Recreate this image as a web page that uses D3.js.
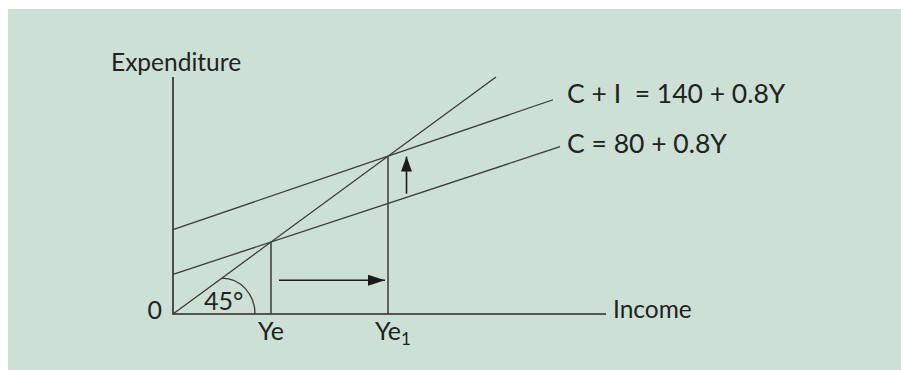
<!DOCTYPE html>
<html>
<head>
<meta charset="utf-8">
<script src="https://cdn.jsdelivr.net/npm/d3@7"></script>
<style>
  body { margin: 0; background: #fff; }
  text { font-family: Lato, "Noto Sans", sans-serif; fill: #222; white-space: pre; }
</style>
</head>
<body>
<div class="chart"></div>
<script>
// schematic units: 45 degree line is y = x
const line45 = [{x: 0, y: 0}, {x: 323, y: 323}];
const lineC = [{x: 0, y: 54}, {x: 387, y: 228}];
const lineCI = [{x: 0, y: 115}, {x: 380, y: 292}];
const equilibria = [{label: "Ye", sub: "", x: 98, y: 98}, {label: "Ye", sub: "1", x: 215, y: 215}];
const lineLabels = ["C + I  = 140 + 0.8Y", "C = 80 + 0.8Y"];
const shiftRight = [{x: 106, y: 46}, {x: 212, y: 46}];
const shiftUp = [{x: 233.5, y: 164}, {x: 233.5, y: 214.5}];
const angleArc = {cx: 49, rx: 33, ry: 49};
const xMax = 433, yMax = 323;

const width = 901, height = 370;

const svg = d3.select(".chart")
  .append("svg")
    .attr("width", width)
    .attr("height", height);

svg.append("rect")
  .attr("x", 8).attr("y", 9)
  .attr("width", width - 8).attr("height", height - 9)
  .attr("fill", "#cde0d5");

const x = d3.scaleLinear().domain([0, xMax]).range([173, 606]);
const y = d3.scaleLinear().domain([0, yMax]).range([314, 77]);

const line = d3.line().x(d => x(d.x)).y(d => y(d.y));

const defs = svg.append("defs");
defs.append("marker")
    .attr("id", "headH")
    .attr("markerUnits", "userSpaceOnUse")
    .attr("viewBox", "0 0 17 11")
    .attr("refX", 17).attr("refY", 5.5)
    .attr("markerWidth", 17).attr("markerHeight", 11)
    .attr("orient", "auto")
  .append("path")
    .attr("d", "M0,0L17,5.5L0,11Z")
    .attr("fill", "#1a1a1a");
defs.append("marker")
    .attr("id", "headV")
    .attr("markerUnits", "userSpaceOnUse")
    .attr("viewBox", "0 0 15 11")
    .attr("refX", 15).attr("refY", 5.5)
    .attr("markerWidth", 15).attr("markerHeight", 11)
    .attr("orient", "auto")
  .append("path")
    .attr("d", "M0,0L15,5.5L0,11Z")
    .attr("fill", "#1a1a1a");

// axes
svg.append("path")
  .attr("d", `M${x(0)},${y(yMax)}V${y(0)}H${x(xMax)}`)
  .attr("fill", "none")
  .attr("stroke", "#2a2a2a")
  .attr("stroke-width", 1.6);

// functions
svg.append("g")
  .selectAll("path")
  .data([line45, lineC, lineCI])
  .join("path")
    .attr("d", line)
    .attr("fill", "none")
    .attr("stroke", "#3a3a3a")
    .attr("stroke-width", 1.3);

// equilibrium drop lines
svg.append("g")
  .selectAll("line")
  .data(equilibria)
  .join("line")
    .attr("x1", d => x(d.x)).attr("x2", d => x(d.x))
    .attr("y1", y(0)).attr("y2", d => y(d.y))
    .attr("stroke", "#444")
    .attr("stroke-width", 1.6);

// 45 degree arc
svg.append("path")
  .attr("d", `M${x(angleArc.cx)},${y(angleArc.ry)}A${x(angleArc.rx) - x(0)},${y(0) - y(angleArc.ry)} 0 0 1 ${x(angleArc.cx + angleArc.rx)},${y(0)}`)
  .attr("fill", "none")
  .attr("stroke", "#3a3a3a")
  .attr("stroke-width", 1.3);

// arrows
svg.append("path")
  .attr("d", line(shiftRight))
  .attr("stroke", "#1a1a1a")
  .attr("stroke-width", 1.6)
  .attr("marker-end", "url(#headH)");
svg.append("path")
  .attr("d", line(shiftUp))
  .attr("stroke", "#1a1a1a")
  .attr("stroke-width", 1.6)
  .attr("marker-end", "url(#headV)");

// labels
svg.append("text")
  .attr("x", 111).attr("y", 71)
  .attr("font-size", 24.5)
  .text("Expenditure");

svg.append("text")
  .attr("x", x(xMax) + 7).attr("y", 318)
  .attr("font-size", 24.5)
  .text("Income");

svg.append("text")
  .attr("x", x(0) - 11).attr("y", 319)
  .attr("text-anchor", "end")
  .attr("font-size", 25)
  .text("0");

svg.append("text")
  .attr("x", 204).attr("y", 310)
  .attr("font-size", 25)
  .text("45°");

svg.append("g")
  .selectAll("text")
  .data(lineLabels)
  .join("text")
    .attr("x", 567)
    .attr("y", (d, i) => 103 + i * 50)
    .attr("font-size", 26.5)
    .text(d => d);

const eqText = svg.append("g")
  .selectAll("text")
  .data(equilibria)
  .join("text")
    .attr("x", d => x(d.x) - 13)
    .attr("y", 340)
    .attr("font-size", 25);
eqText.append("tspan").text(d => d.label);
eqText.append("tspan")
  .attr("dy", 5)
  .attr("font-size", 17)
  .text(d => d.sub);
</script>
</body>
</html>
